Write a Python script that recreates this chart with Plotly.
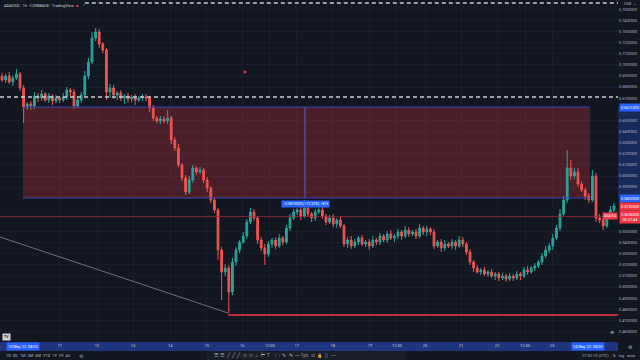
import plotly.graph_objects as go

# ---------------- data ----------------
# closing prices, one candle per bar, USD
closes = [
    0.6864, 0.6900, 0.6846, 0.6882, 0.6918, 0.6792, 0.6621, 0.6648, 0.6630, 0.6720,
    0.6702, 0.6738, 0.6684, 0.6720, 0.6675, 0.6702, 0.6684, 0.6711, 0.6774, 0.6756,
    0.6630, 0.6684, 0.6729, 0.6900, 0.7026, 0.7242, 0.7296, 0.7188, 0.7134, 0.6756,
    0.6792, 0.6729, 0.6747, 0.6702, 0.6720, 0.6693, 0.6711, 0.6684, 0.6702, 0.6711,
    0.6702, 0.6612, 0.6522, 0.6495, 0.6513, 0.6495, 0.6522, 0.6324, 0.6252, 0.6099,
    0.5982, 0.5856, 0.5964, 0.6072, 0.6036, 0.6054, 0.5964, 0.5892, 0.5784, 0.5694,
    0.5334, 0.5136, 0.5172, 0.4956, 0.5226, 0.5334, 0.5406, 0.5460, 0.5586, 0.5676,
    0.5622, 0.5424, 0.5352, 0.5298, 0.5388, 0.5424, 0.5370, 0.5442, 0.5406, 0.5532,
    0.5622, 0.5676, 0.5694, 0.5640, 0.5712, 0.5658, 0.5622, 0.5676, 0.5694, 0.5640,
    0.5586, 0.5622, 0.5568, 0.5604, 0.5550, 0.5388, 0.5424, 0.5370, 0.5406, 0.5442,
    0.5388, 0.5406, 0.5370, 0.5424, 0.5406, 0.5460, 0.5424, 0.5478, 0.5442, 0.5460,
    0.5496, 0.5460, 0.5514, 0.5478, 0.5496, 0.5460, 0.5532, 0.5496, 0.5523, 0.5496,
    0.5370, 0.5406, 0.5352, 0.5388, 0.5370, 0.5406, 0.5370, 0.5424, 0.5388, 0.5316,
    0.5226, 0.5172, 0.5136, 0.5154, 0.5118, 0.5136, 0.5100, 0.5118, 0.5082, 0.5100,
    0.5073, 0.5100, 0.5082, 0.5118, 0.5100, 0.5154, 0.5136, 0.5172, 0.5190, 0.5226,
    0.5280, 0.5334, 0.5370, 0.5442, 0.5532, 0.5658, 0.5784, 0.6072, 0.6000, 0.6036,
    0.5928, 0.5874, 0.5820, 0.5784, 0.6000, 0.5622, 0.5604, 0.5550, 0.5640, 0.5694, 0.5730,
]
first_open = 0.6900

# wick lengths above the body / below the body (USD)
upper_wick = [
    0.0027, 0.0018, 0.0036, 0.0027, 0.0045, 0.0018, 0.0027, 0.0018, 0.0027, 0.0036,
    0.0027, 0.0036, 0.0018, 0.0027, 0.0018, 0.0027, 0.0018, 0.0036, 0.0027, 0.0018,
    0.0027, 0.0036, 0.0027, 0.0045, 0.0036, 0.0054, 0.0036, 0.0027, 0.0018, 0.0018,
    0.0036, 0.0027, 0.0018, 0.0027, 0.0018, 0.0027, 0.0018, 0.0027, 0.0018, 0.0027,
    0.0027, 0.0018, 0.0027, 0.0018, 0.0027, 0.0027, 0.0072, 0.0018, 0.0027, 0.0036,
    0.0018, 0.0027, 0.0036, 0.0027, 0.0018, 0.0027, 0.0018, 0.0027, 0.0018, 0.0027,
    0.0018, 0.0027, 0.0036, 0.0027, 0.0036, 0.0027, 0.0018, 0.0036, 0.0027, 0.0036,
    0.0027, 0.0018, 0.0027, 0.0036, 0.0027, 0.0018, 0.0027, 0.0036, 0.0018, 0.0027,
    0.0036, 0.0027, 0.0018, 0.0027, 0.0072, 0.0027, 0.0018, 0.0027, 0.0036, 0.0027,
    0.0018, 0.0027, 0.0036, 0.0018, 0.0027, 0.0018, 0.0027, 0.0036, 0.0027, 0.0018,
    0.0027, 0.0018, 0.0027, 0.0036, 0.0018, 0.0027, 0.0018, 0.0027, 0.0036, 0.0018,
    0.0027, 0.0018, 0.0036, 0.0027, 0.0018, 0.0027, 0.0036, 0.0018, 0.0027, 0.0018,
    0.0027, 0.0018, 0.0027, 0.0036, 0.0018, 0.0027, 0.0018, 0.0036, 0.0027, 0.0018,
    0.0027, 0.0018, 0.0027, 0.0018, 0.0027, 0.0018, 0.0027, 0.0018, 0.0018, 0.0027,
    0.0018, 0.0027, 0.0018, 0.0027, 0.0018, 0.0027, 0.0036, 0.0018, 0.0027, 0.0018,
    0.0027, 0.0036, 0.0027, 0.0036, 0.0027, 0.0045, 0.0036, 0.0162, 0.0072, 0.0036,
    0.0036, 0.0027, 0.0018, 0.0027, 0.0054, 0.0027, 0.0036, 0.0018, 0.0027, 0.0036, 0.0027,
]
lower_wick = [
    0.0018, 0.0027, 0.0018, 0.0036, 0.0018, 0.0027, 0.0144, 0.0027, 0.0036, 0.0027,
    0.0036, 0.0027, 0.0018, 0.0027, 0.0036, 0.0018, 0.0027, 0.0018, 0.0027, 0.0036,
    0.0027, 0.0018, 0.0027, 0.0018, 0.0027, 0.0018, 0.0027, 0.0036, 0.0027, 0.0072,
    0.0054, 0.0036, 0.0045, 0.0027, 0.0054, 0.0036, 0.0027, 0.0045, 0.0018, 0.0027,
    0.0027, 0.0036, 0.0027, 0.0018, 0.0027, 0.0018, 0.0027, 0.0036, 0.0027, 0.0018,
    0.0027, 0.0027, 0.0018, 0.0027, 0.0027, 0.0018, 0.0027, 0.0036, 0.0027, 0.0027,
    0.0090, 0.0252, 0.0036, 0.0189, 0.0027, 0.0036, 0.0027, 0.0018, 0.0027, 0.0018,
    0.0027, 0.0036, 0.0027, 0.0099, 0.0027, 0.0036, 0.0027, 0.0018, 0.0027, 0.0018,
    0.0027, 0.0018, 0.0027, 0.0036, 0.0018, 0.0027, 0.0036, 0.0027, 0.0018, 0.0027,
    0.0027, 0.0018, 0.0027, 0.0036, 0.0018, 0.0027, 0.0036, 0.0027, 0.0018, 0.0027,
    0.0018, 0.0027, 0.0036, 0.0018, 0.0027, 0.0027, 0.0018, 0.0027, 0.0018, 0.0036,
    0.0027, 0.0036, 0.0018, 0.0027, 0.0018, 0.0027, 0.0018, 0.0027, 0.0036, 0.0027,
    0.0027, 0.0018, 0.0036, 0.0027, 0.0018, 0.0027, 0.0036, 0.0018, 0.0027, 0.0027,
    0.0027, 0.0036, 0.0018, 0.0027, 0.0018, 0.0027, 0.0018, 0.0036, 0.0027, 0.0018,
    0.0027, 0.0018, 0.0027, 0.0018, 0.0036, 0.0018, 0.0027, 0.0018, 0.0027, 0.0018,
    0.0027, 0.0018, 0.0027, 0.0036, 0.0018, 0.0027, 0.0018, 0.0027, 0.0036, 0.0027,
    0.0027, 0.0018, 0.0036, 0.0027, 0.0018, 0.0036, 0.0027, 0.0036, 0.0018, 0.0027, 0.0018,
]

# price-axis ticks and time-axis ticks
price_ticks = [0.75, 0.74, 0.73, 0.72, 0.71, 0.70, 0.69, 0.68, 0.67, 0.66, 0.65, 0.64,
               0.63, 0.62, 0.61, 0.60, 0.59, 0.58, 0.57, 0.56, 0.55, 0.54, 0.53, 0.52,
               0.51, 0.50, 0.49, 0.48, 0.47, 0.46]
time_tick_bars = [16.1, 26.4, 36.4, 46.7, 56.9, 66.7, 74.4, 81.9, 91.9, 102.2, 109.7,
                  117.5, 127.5, 137.5, 145.3, 152.8]
time_tick_labels = ["11", "12", "13", "14", "15", "16", "12:00", "17", "18", "19", "12:00",
                    "20", "21", "22", "12:00", "23"]

# drawings on the chart
range_start_bar, range_end_bar = 5.83, 163.3
range_top, range_bottom = 0.6621, 0.5802
dashed_level = 0.6711
top_dashed_level = 0.7557
red_dotted_level = 0.5636
support_level, support_start_bar = 0.4749, 62.8
trend_pts_bar = [-0.56, 62.8]
trend_pts_price = [0.5451, 0.4767]
marker_bar, marker_price = 67.5, 0.6936
last_price = 0.5730

# ---------------- build ----------------
opens = [first_open] + closes[:-1]
highs = [max(o, c) + w for o, c, w in zip(opens, closes, upper_wick)]
lows = [min(o, c) - w for o, c, w in zip(opens, closes, lower_wick)]
bars = list(range(len(closes)))

# axis tick labels hidden behind the highlighted price tags
tag_prices = [range_top, range_bottom, last_price, red_dotted_level]
shown_ticks = [t for t in price_ticks
               if all(abs(t - p) > 0.0062 for p in tag_prices[:3])
               and not (red_dotted_level - 0.0075 < t < red_dotted_level + 0.0062)]

BG = "#131722"
TXT = "#b2b5be"
GREEN = "#26a69a"
RED = "#ef5350"
BLUE = "#2962ff"
FONT = "Roboto"
PLOT_R = 618 / 640
PLOT_B = 18 / 360


def px(x):
    return x / 640


def py(y):
    return 1 - y / 360


fig = go.Figure()
fig.add_trace(go.Candlestick(
    x=bars, open=opens, high=highs, low=lows, close=closes,
    increasing=dict(line=dict(color=GREEN, width=1), fillcolor=GREEN),
    decreasing=dict(line=dict(color=RED, width=1), fillcolor=RED),
    whiskerwidth=0, showlegend=False, hoverinfo="skip",
))
fig.add_trace(go.Scatter(
    x=[marker_bar], y=[marker_price], mode="markers",
    marker=dict(symbol="square", size=2.5, color="#f23645"), showlegend=False,
    hoverinfo="skip",
))
fig.add_trace(go.Scatter(
    x=trend_pts_bar, y=trend_pts_price, mode="lines",
    line=dict(color="#9598a1", width=0.7), showlegend=False, hoverinfo="skip",
))

shapes = [
    # measured range (falling => red)
    dict(type="rect", xref="x", yref="y", x0=range_start_bar, x1=range_end_bar,
         y0=range_bottom, y1=range_top, fillcolor="rgba(242,54,69,0.25)",
         line=dict(width=0), layer="between"),
    dict(type="line", xref="x", yref="y", x0=range_start_bar, x1=range_end_bar,
         y0=range_top, y1=range_top, line=dict(color="#3846b8", width=1)),
    dict(type="line", xref="x", yref="y", x0=range_start_bar, x1=range_end_bar,
         y0=range_bottom, y1=range_bottom, line=dict(color="#3846b8", width=1)),
    dict(type="line", xref="x", yref="y", x0=84.17, x1=84.17,
         y0=range_top, y1=range_bottom, line=dict(color="#4c5fe0", width=1)),
    # horizontal levels
    dict(type="line", xref="x domain", yref="y", x0=0, x1=1, y0=dashed_level,
         y1=dashed_level, line=dict(color="#c9cbd2", width=1.6, dash="4px,3px")),
    dict(type="line", xref="x", yref="y", x0=23, x1=171.2, y0=top_dashed_level,
         y1=top_dashed_level, line=dict(color="#c9cbd2", width=1.4, dash="4px,3px")),
    dict(type="line", xref="x domain", yref="y", x0=0, x1=1, y0=red_dotted_level,
         y1=red_dotted_level, line=dict(color="#a02c38", width=0.8)),
    dict(type="line", xref="x", yref="y", x0=support_start_bar, x1=171.2,
         y0=support_level, y1=support_level, line=dict(color="#f23645", width=1.3)),
    # price axis highlighted range
    dict(type="rect", xref="paper", yref="y", x0=PLOT_R, x1=1, y0=range_bottom,
         y1=range_top, fillcolor="#182a59", line=dict(width=0), layer="below"),
    # time axis highlighted band
    dict(type="rect", xref="paper", yref="paper", x0=0, x1=PLOT_R, y0=py(351),
         y1=PLOT_B, fillcolor="#1f3580", line=dict(width=0), layer="below"),
    # drawing toolbar panel
    dict(type="rect", xref="paper", yref="paper", x0=px(207), x1=px(405), y0=0,
         y1=py(351.5), fillcolor="#1a1e29", line=dict(width=0), layer="below"),
]

ann = []


def label(x, y, text, bg, xref="paper", yref="y", size=3.8, color="white", xanchor="left"):
    ann.append(dict(x=x, y=y, xref=xref, yref=yref, text=text, showarrow=False,
                    bgcolor=bg, font=dict(family=FONT, size=size, color=color),
                    xanchor=xanchor, yanchor="middle", borderpad=1))


# header
ann.append(dict(x=px(2), y=py(5.5), xref="paper", yref="paper", showarrow=False,
                text="ADAUSD · 1h · COINBASE · TradingView", xanchor="left",
                yanchor="middle", font=dict(family=FONT, size=4, color="#d1d4dc")))
ann.append(dict(x=px(77), y=py(5.5), xref="paper", yref="paper", showarrow=False,
                text="■", font=dict(size=4, color="#f23645"), xanchor="center", yanchor="middle"))
ann.append(dict(x=px(84), y=py(5.5), xref="paper", yref="paper", showarrow=False,
                text="●", font=dict(size=3, color=GREEN), xanchor="center", yanchor="middle"))
ann.append(dict(x=px(622), y=py(3.5), xref="paper", yref="paper", showarrow=False,
                text="USD  ⌄", font=dict(family=FONT, size=3.8, color=TXT),
                xanchor="left", yanchor="middle"))

# price-axis labels
label(px(619), range_top, f"{range_top:.7f}", BLUE)
label(px(619), range_bottom, f"{range_bottom:.7f}", BLUE)
label(px(619), last_price, f"{last_price:.7f}", "#f23645")
label(px(619), red_dotted_level - 0.0009, f"{red_dotted_level:.7f}<br>00:57:44", "#f23645")
label(px(617.5), red_dotted_level, "ADAUSD", "#f23645", size=3.2, xanchor="right")

# measurement tag
diff = range_bottom - range_top
label(84.17, 0.5748,
      f"−{abs(diff):.7f} (−{abs(diff) / range_top * 100:.2f}%) −{abs(diff) * 10000:.0f}",
      BLUE, xref="x", size=3.6, xanchor="center")

# time-axis boxes
ann.append(dict(x=range_start_bar, y=py(346.5), xref="x", yref="paper",
                text="10 May '22  08:00", showarrow=False, bgcolor=BLUE,
                font=dict(family=FONT, size=3.8, color="white"), xanchor="center",
                yanchor="middle", borderpad=1))
ann.append(dict(x=range_end_bar - 0.5, y=py(346.5), xref="x", yref="paper",
                text="24 May '22  08:00", showarrow=False, bgcolor=BLUE,
                font=dict(family=FONT, size=3.8, color="white"), xanchor="center",
                yanchor="middle", borderpad=1))

# bottom toolbar
ann.append(dict(x=px(4), y=py(355.5), xref="paper", yref="paper", showarrow=False,
                text="1D  5D  1M  3M  6M  YTD  1Y  5Y  All", xanchor="left", yanchor="middle",
                font=dict(family=FONT, size=4, color=TXT)))
ann.append(dict(x=px(81), y=py(355.5), xref="paper", yref="paper", showarrow=False,
                text="⟲", xanchor="center", yanchor="middle",
                font=dict(size=5, color=TXT)))
ann.append(dict(x=px(212), y=py(355.5), xref="paper", yref="paper", showarrow=False,
                text="☰  ☰  ╱  ╱  ╱  ◇  ◇  ⌶  ⊢  T     ⁞  ⫶  ✎  ✎  — 1px  ⊙  🔒  ▯  ⋯",
                xanchor="left", yanchor="middle", font=dict(size=4.5, color=TXT)))
ann.append(dict(x=px(638), y=py(355.5), xref="paper", yref="paper", showarrow=False,
                text="21:02:15 (UTC)    %   log   auto", xanchor="right", yanchor="middle",
                font=dict(family=FONT, size=4, color=TXT)))
ann.append(dict(x=px(6), y=py(337), xref="paper", yref="paper", showarrow=False,
                text="<b>TV</b>", bgcolor="#d1d4dc", xanchor="center", yanchor="middle",
                font=dict(family=FONT, size=3.5, color=BG), borderpad=1))
ann.append(dict(x=px(612), y=py(332), xref="paper", yref="paper", showarrow=False,
                text="⊕", xanchor="center", yanchor="middle",
                font=dict(size=5, color=TXT)))
ann.append(dict(x=px(630), y=py(347), xref="paper", yref="paper", showarrow=False,
                text="⚙", xanchor="center", yanchor="middle",
                font=dict(size=5, color=TXT)))

fig.update_layout(
    width=640, height=360, margin=dict(l=0, r=0, t=0, b=0, autoexpand=False),
    paper_bgcolor=BG, plot_bgcolor=BG, showlegend=False,
    shapes=shapes, annotations=ann,
    xaxis=dict(domain=[0, PLOT_R], range=[-0.56, 171.11], rangeslider=dict(visible=False),
               tickmode="array", tickvals=time_tick_bars, ticktext=time_tick_labels,
               tickfont=dict(family=FONT, size=4, color="#c8cad0"), ticks="", ticklen=0,
               showgrid=True, gridcolor="#1a1e2a", gridwidth=1, zeroline=False,
               showline=False, fixedrange=True, automargin=False),
    yaxis=dict(domain=[PLOT_B, 1], range=[0.4506, 0.7584], side="right",
               tickmode="array", tickvals=shown_ticks,
               ticktext=[f"{v:.7f}" for v in shown_ticks],
               tickfont=dict(family=FONT, size=3.8, color=TXT), ticks="", ticklen=0,
               showgrid=True, gridcolor="#1a1e2a", gridwidth=1, zeroline=False,
               showline=False, fixedrange=True, automargin=False),
)

fig.write_html(
    "out.html",
    config={"displayModeBar": False},
    post_script="document.body.style.margin='0';document.body.style.background='#131722';",
)
